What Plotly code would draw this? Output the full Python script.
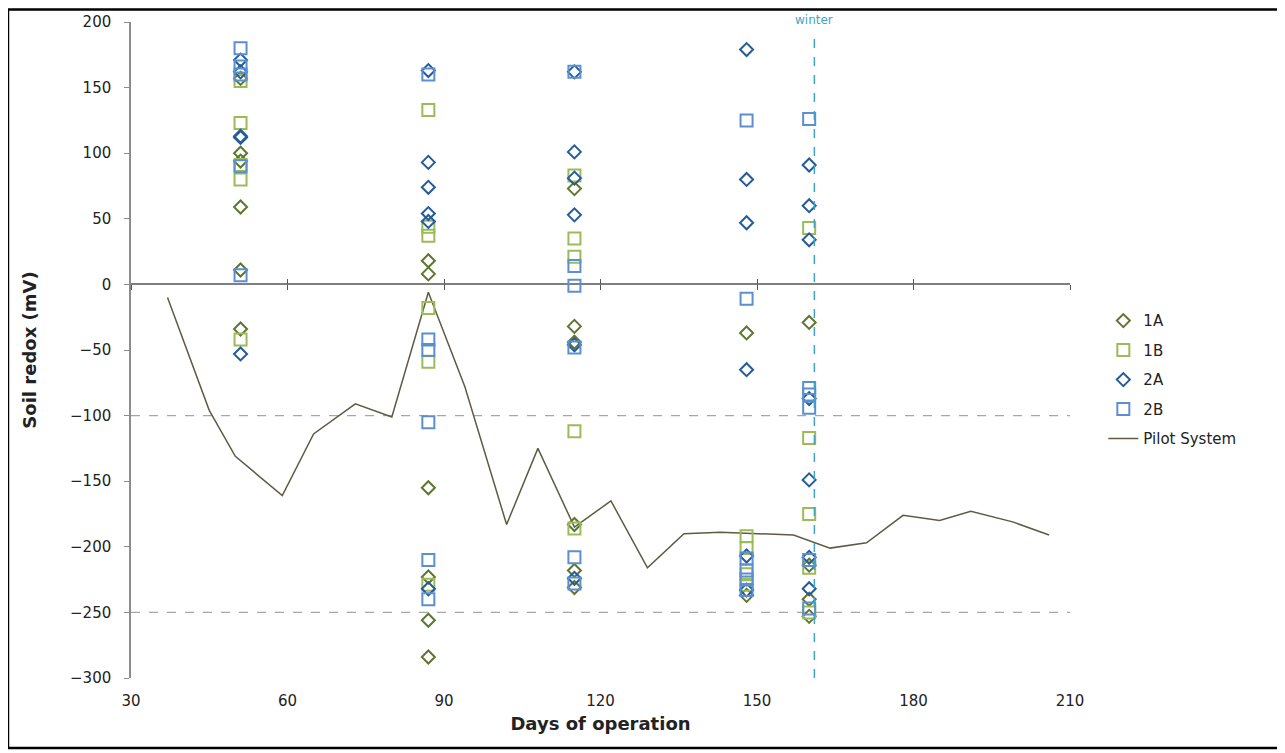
import plotly.graph_objects as go

# sampling days and soil redox readings (mV) per plot
days_1a = [51, 51, 51, 51, 51, 51, 87, 87, 87, 87, 87, 87, 115, 115, 115, 115, 115, 115, 148, 148, 160, 160, 160, 160]
redox_1a = [157, 100, 94, 59, 11, -34, 18, 8, -155, -223, -256, -284, 73, -32, -44, -183, -218, -231, -37, -237, -29, -214, -240, -253]

days_1b = [51, 51, 51, 51, 51, 87, 87, 87, 87, 87, 87, 115, 115, 115, 115, 115, 148, 148, 148, 148, 160, 160, 160, 160, 160]
redox_1b = [155, 123, 91, 80, -42, 133, 44, 37, -18, -59, -229, 83, 35, 21, -112, -186, -192, -201, -221, -229, 43, -117, -175, -216, -250]

days_2a = [51, 51, 51, 51, 51, 87, 87, 87, 87, 87, 87, 115, 115, 115, 115, 115, 115, 148, 148, 148, 148, 148, 148, 160, 160, 160, 160, 160, 160, 160]
redox_2a = [171, 162, 113, 112, -53, 163, 93, 74, 54, 48, -232, 162, 101, 81, 53, -46, -224, 179, 80, 47, -65, -207, -233, 91, 60, 34, -87, -149, -208, -232]

days_2b = [51, 51, 51, 51, 51, 87, 87, 87, 87, 87, 87, 115, 115, 115, 115, 115, 115, 148, 148, 148, 148, 148, 148, 160, 160, 160, 160, 160, 160]
redox_2b = [180, 166, 160, 90, 7, 160, -42, -50, -105, -210, -240, 162, 14, -1, -48, -208, -228, 125, -11, -209, -218, -225, -233, 126, -79, -84, -94, -210, -247]

# pilot system average
pilot_days = [37, 45, 50, 59, 65, 73, 80, 87, 94, 102, 108, 115, 122, 129, 136, 143, 157, 164, 171, 178, 185, 191, 199, 206]
pilot_redox = [-10, -96, -131, -161, -114, -91, -101, -6, -78, -183, -125, -185, -165, -216, -190, -189, -191, -201, -197, -176, -180, -173, -181, -191]

winter_day = 161
thresholds = [-100, -250]

FONT = "DejaVu Sans, Verdana, sans-serif"

fig = go.Figure()

series = [
    ("1A", days_1a, redox_1a, "diamond-open", "#5E7630", 10),
    ("1B", days_1b, redox_1b, "square-open", "#9BBB59", 12),
    ("2A", days_2a, redox_2a, "diamond-open", "#245C9A", 10),
    ("2B", days_2b, redox_2b, "square-open", "#5B8FCF", 12),
]
for name, xs, ys, sym, col, size in series:
    fig.add_trace(go.Scatter(x=xs, y=ys, mode="markers", name=name, legendgroup=name,
                             xaxis="x3",
                             marker=dict(symbol=sym, size=size, color=col, line=dict(width=2, color=col))))

fig.add_trace(go.Scatter(x=pilot_days, y=pilot_redox, mode="lines", name="Pilot System",
                         legendgroup="pilot", xaxis="x2",
                         line=dict(color="#5F5B42", width=1.5)))

for t in thresholds:
    fig.add_hline(y=t, line=dict(color="#A6A6A6", width=1.3, dash="dash"), layer="below")

fig.add_shape(type="line", xref="x", yref="paper", x0=winter_day, x1=winter_day, y0=0, y1=0.985,
              line=dict(color="#3EA3C8", width=1.5, dash="dash"))
fig.add_annotation(x=winter_day, y=1, xref="x", yref="paper", text="winter", showarrow=False,
                   yanchor="middle", yshift=2, font=dict(family=FONT, size=12, color="#3EA3C8"))

# frame round the whole picture
fig.add_shape(type="rect", xref="paper", yref="paper", x0=-0.131, x1=1.2236, y0=-0.1067, y1=1.019,
              line=dict(color="black", width=2.5))

xr = [30, 210]
fig.update_layout(
    width=1285, height=753,
    margin=dict(l=123, r=223, t=14, b=83, autoexpand=False),
    paper_bgcolor="white", plot_bgcolor="white",
    font=dict(family=FONT, size=15, color="#222222"),
    xaxis=dict(range=xr, tickvals=list(range(30, 211, 30)), showline=False, showgrid=False,
               zeroline=False, ticks="", ticklabelstandoff=12, automargin=False,
               title=dict(text="<b>Days of operation</b>", standoff=8)),
    xaxis2=dict(range=xr, matches="x", overlaying="x", anchor="free", position=0.6,
                tickvals=list(range(30, 211, 30)), showticklabels=False, ticks="outside",
                ticklen=5, tickcolor="#555555", showgrid=False, zeroline=False, showline=False,
                automargin=False),
    xaxis3=dict(range=xr, matches="x", overlaying="x", anchor="free", position=0.6,
                tickvals=list(range(30, 211, 30)), showticklabels=False, ticks="inside",
                ticklen=5, tickcolor="#555555", showgrid=False, zeroline=False, showline=False,
                automargin=False),
    yaxis=dict(range=[-300, 200], tickvals=list(range(-300, 201, 50)), showgrid=False,
               showline=True, linecolor="#8C8C8C", linewidth=1.5, ticks="outside", ticklen=5,
               tickcolor="#8C8C8C", zeroline=True, zerolinecolor="#7F7F7F", zerolinewidth=1.5,
               ticklabelstandoff=10, automargin=False,
               title=dict(text="<b>Soil redox (mV)</b>", standoff=29)),
    legend=dict(x=1.0355, y=0.5696, xanchor="left", yanchor="top", tracegroupgap=7,
                font=dict(family=FONT, size=15, color="#222222"), bgcolor="rgba(0,0,0,0)"),
    showlegend=True,
)

fig.write_html("out.html")
